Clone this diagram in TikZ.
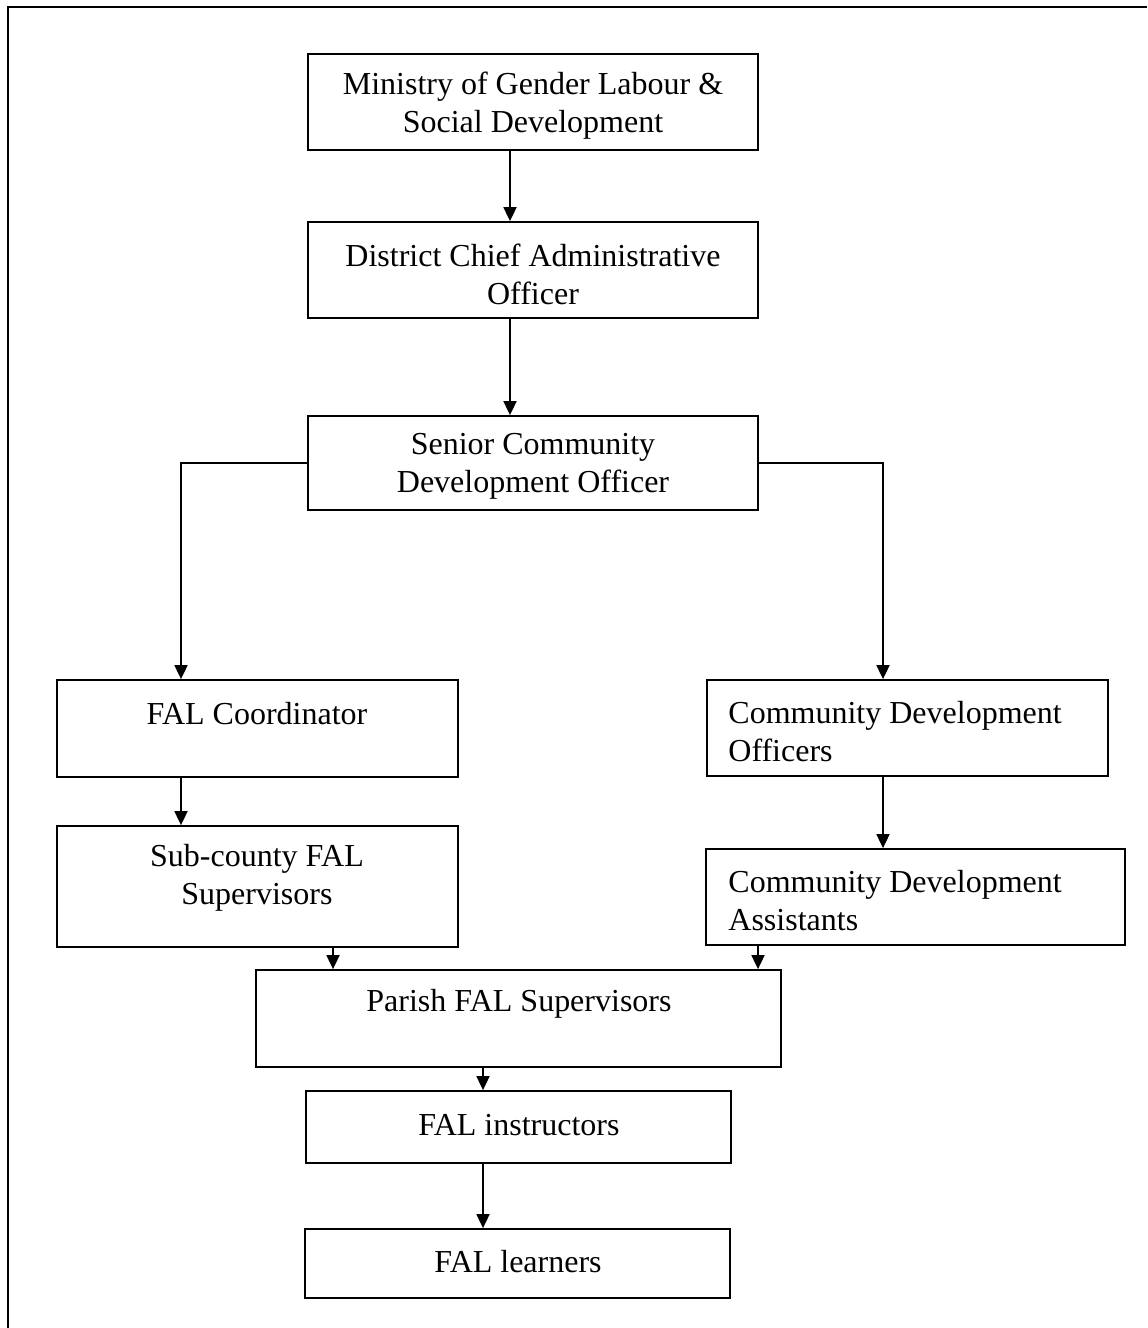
\documentclass[tikz,border=0pt]{standalone}
\usepackage{fontspec}
\setmainfont{Liberation Serif}
\usetikzlibrary{arrows.meta}
\begin{document}
\begin{tikzpicture}[x=0.5pt,y=-0.5pt,
  box/.style={draw, line width=0.9pt, inner sep=0pt, rectangle},
  txt/.style={inner sep=0pt, align=center, yshift=-1.5pt, font=\fontsize{16}{19}\selectfont},
  ltxt/.style={inner sep=0pt, align=left, anchor=west, yshift=-1.5pt, font=\fontsize{16}{19}\selectfont},
  conn/.style={line width=0.9pt, -{Triangle[length=7pt,width=6.5pt]}},
  frame/.style={line width=1pt}]
\useasboundingbox (0,0) rectangle (1147,1328);
% frame
\coordinate (ftl) at (8,7);
\coordinate (ftr) at (1147,7);
\coordinate (fbl) at (8,1328);
\draw[frame] (ftr) -- (ftl) -- (fbl);
% boxes
\node[box, minimum width=225pt, minimum height=48pt] (min) at (533,102) {};
\node[box, minimum width=225pt, minimum height=48pt] (dis) at (533,270) {};
\node[box, minimum width=225pt, minimum height=47pt] (sen) at (533,463) {};
\node[box, minimum width=200.5pt, minimum height=48.5pt] (falc) at (257.5,728.5) {};
\node[box, minimum width=200.5pt, minimum height=60.5pt] (sub) at (257.5,886.5) {};
\node[box, minimum width=200.5pt, minimum height=48pt] (cdo) at (907.5,728) {};
\node[box, minimum width=209.5pt, minimum height=48pt] (cda) at (915.5,897) {};
\node[box, minimum width=262.5pt, minimum height=48.5pt] (par) at (518.5,1018.5) {};
\node[box, minimum width=212.5pt, minimum height=36pt] (ins) at (518.5,1127) {};
\node[box, minimum width=212.5pt, minimum height=34.5pt] (lea) at (517.5,1263.5) {};
% texts
\node[txt] (tmin) at (533,103) {Ministry of Gender Labour \&\\Social Development};
\node[txt] (tdis) at (533,271) {District Chief Administrative\\Officer};
\node[txt] (tsen) at (533,463) {Senior Community\\Development Officer};
\node[txt] (tfalc) at (257,711) {FAL Coordinator};
\node[txt] (tsub) at (257,875) {Sub-county FAL\\Supervisors};
\node[ltxt] (tcdo) at (728,728.5) {Community Development\\Officers};
\node[ltxt] (tcda) at (728,898) {Community Development\\Assistants};
\node[txt] (tpar) at (519,1001) {Parish FAL Supervisors};
\node[txt] (tins) at (519,1122) {FAL instructors};
\node[txt] (tlea) at (518,1259) {FAL learners};
% arrow columns
\coordinate (c510) at (510,0);
\coordinate (c181) at (181,0);
\coordinate (c883) at (883,0);
\coordinate (c333) at (333,0);
\coordinate (c758) at (758,0);
\coordinate (c483) at (483,0);
% connectors
\draw[conn] (min.south -| c510) -- (dis.north -| c510);
\draw[conn] (dis.south -| c510) -- (sen.north -| c510);
\draw[conn] (sen.west) -| (falc.north -| c181);
\draw[conn] (sen.east) -| (cdo.north -| c883);
\draw[conn] (falc.south -| c181) -- (sub.north -| c181);
\draw[conn] (cdo.south -| c883) -- (cda.north -| c883);
\draw[conn] (sub.south -| c333) -- (par.north -| c333);
\draw[conn] (cda.south -| c758) -- (par.north -| c758);
\draw[conn] (par.south -| c483) -- (ins.north -| c483);
\draw[conn] (ins.south -| c483) -- (lea.north -| c483);
\end{tikzpicture}
\end{document}
